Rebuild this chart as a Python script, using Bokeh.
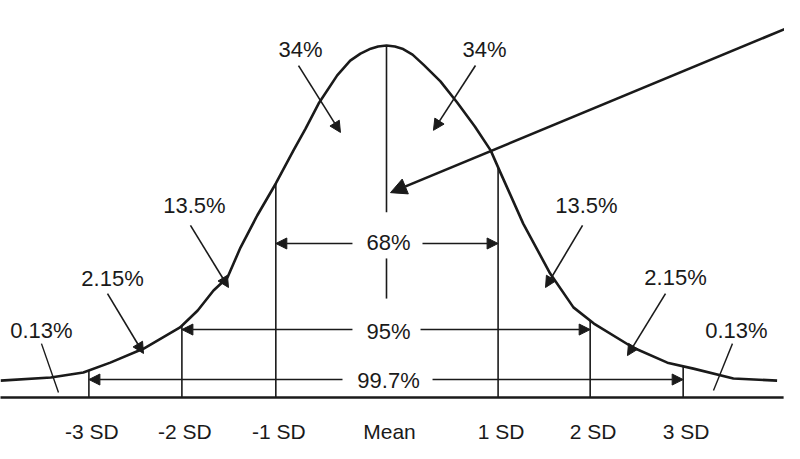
from bokeh.plotting import figure
from bokeh.models import Arrow, NormalHead, Range1d, ColumnDataSource
from bokeh.core.properties import value
from bokeh.embed import file_html
from bokeh.resources import INLINE
import numpy as np

# ---- data (x in SD-like units, y relative height) ----
curve_x = [-4.15, -3.61, -3.26, -2.97, -2.61, -2.22, -2.03, -1.86, -1.71, -1.57,
           -1.39, -1.19, -1.00, -0.87, -0.73, -0.53, -0.39, -0.28, -0.17, -0.09, 0.0,
           0.09, 0.17, 0.28, 0.40, 0.58, 0.76, 0.95,
           1.12, 1.23, 1.47, 1.76, 2.01, 2.23, 2.65, 3.02, 3.30, 3.73, 4.20]
curve_y = [0.048, 0.057, 0.071, 0.099, 0.139, 0.199, 0.247, 0.304, 0.341, 0.426,
           0.517, 0.608, 0.702, 0.764, 0.835, 0.915, 0.957, 0.977, 0.991, 0.997, 1.0,
           0.997, 0.991, 0.974, 0.945, 0.898, 0.838, 0.770,
           0.702, 0.636, 0.494, 0.352, 0.256, 0.210, 0.142, 0.099, 0.082, 0.054, 0.048]

sd_x = [-3.2, -2.2, -1.19, 0.0, 1.2, 2.19, 3.19]
tick_labels = ["-3 SD", "-2 SD", "-1 SD", "Mean", "1 SD", "2 SD", "3 SD"]

# area percentages and where they are written
area_labels = ["34%", "34%", "13.5%", "13.5%", "2.15%", "2.15%", "0.13%", "0.13%"]
area_lx = [-0.925, 1.054, -2.065, 2.15, -2.946, 3.108, -3.71, 3.763]
area_ly = [0.989, 0.989, 0.545, 0.545, 0.338, 0.341, 0.19, 0.19]

# pointer arrows (start near label, end in area)
ptr_x0 = [-0.946, 0.957, -2.108, 2.108, -3.0, 3.0]
ptr_y0 = [0.943, 0.943, 0.489, 0.489, 0.295, 0.295]
ptr_x1 = [-0.495, 0.505, -1.699, 1.71, -2.613, 2.591]
ptr_y1 = [0.753, 0.759, 0.3125, 0.3125, 0.125, 0.119]

# plain leader lines for 0.13%
lead_x0 = [-3.71, 3.72]
lead_y0 = [0.153, 0.153]
lead_x1 = [-3.527, 3.516]
lead_y1 = [0.014, 0.020]

# spans within 1, 2, 3 SD
span_labels = ["68%", "95%", "99.7%"]
span_lo = [-1.19, -2.2, -3.2]
span_hi = [1.2, 2.19, 3.19]
span_y = [0.4375, 0.193, 0.051]
span_gap_lo = [-0.366, -0.366, -0.473]
span_gap_hi = [0.387, 0.366, 0.495]
span_ty = [0.44, 0.188, 0.048]
span_tx = [0.022, 0.022, 0.022]

FONT = value("Liberation Sans")
INK = "#1a1a1a"

p = figure(width=784, height=443, output_backend="svg", toolbar_location=None,
           x_range=Range1d(-4.1505, 4.2796), y_range=Range1d(-0.1307, 1.1278),
           min_border=0)
p.axis.visible = False
p.grid.visible = False
p.outline_line_color = None
p.background_fill_color = "white"
p.border_fill_color = "white"

# baseline
p.segment(x0=[-4.16], y0=[0.0], x1=[4.27], y1=[0.0], line_color=INK, line_width=2.6)

# curve
p.line(curve_x, curve_y, line_color=INK, line_width=2.6, line_join="round")

# SD vertical lines up to the curve
tops = np.interp(sd_x, curve_x, curve_y)
vx = [x for x in sd_x if x != 0.0]
vt = [t for x, t in zip(sd_x, tops) if x != 0.0]
p.segment(x0=vx, y0=[0.0] * len(vx), x1=vx, y1=vt, line_color=INK, line_width=1.6)
# mean line (broken)
p.segment(x0=[0.0, 0.0], y0=[1.0, 0.395], x1=[0.0, 0.0], y1=[0.526, 0.281],
          line_color=INK, line_width=1.6)

# span arrows
ax0, ay0, ax1, ay1 = [], [], [], []
for lo, hi, y, glo, ghi in zip(span_lo, span_hi, span_y, span_gap_lo, span_gap_hi):
    ax0 += [glo, ghi]; ay0 += [y, y]; ax1 += [lo, hi]; ay1 += [y, y]
span_src = ColumnDataSource(dict(x_start=ax0, y_start=ay0, x_end=ax1, y_end=ay1))
p.add_layout(Arrow(source=span_src, line_color=INK, line_width=1.6,
                   end=NormalHead(size=11, fill_color=INK, line_color=INK, line_width=1)))

ptr_src = ColumnDataSource(dict(x_start=ptr_x0, y_start=ptr_y0, x_end=ptr_x1, y_end=ptr_y1))
p.add_layout(Arrow(source=ptr_src, line_color=INK, line_width=1.6,
                   end=NormalHead(size=11, fill_color=INK, line_color=INK, line_width=1)))

# long arrow pointing at the mean
p.add_layout(Arrow(x_start=4.376, y_start=1.057, x_end=0.043, y_end=0.582,
                   line_color=INK, line_width=2.6,
                   end=NormalHead(size=16, fill_color=INK, line_color=INK, line_width=1)))

# leader lines
p.segment(x0=lead_x0, y0=lead_y0, x1=lead_x1, y1=lead_y1, line_color=INK, line_width=1.4)

# texts
p.text(x=area_lx, y=area_ly, text=area_labels, text_font=FONT, text_font_size="22px",
       text_align="center", text_baseline="middle", text_color=INK)
p.text(x=span_tx, y=span_ty, text=span_labels, text_font=FONT, text_font_size="22px",
       text_align="center", text_baseline="middle", text_color=INK)
p.text(x=sd_x, y=[-0.097] * len(sd_x), text=tick_labels, text_font=FONT,
       text_font_size="21px", text_align="center", text_baseline="middle",
       text_color=INK, x_offset=3)

open("out.html", "w").write(file_html(p, INLINE))
